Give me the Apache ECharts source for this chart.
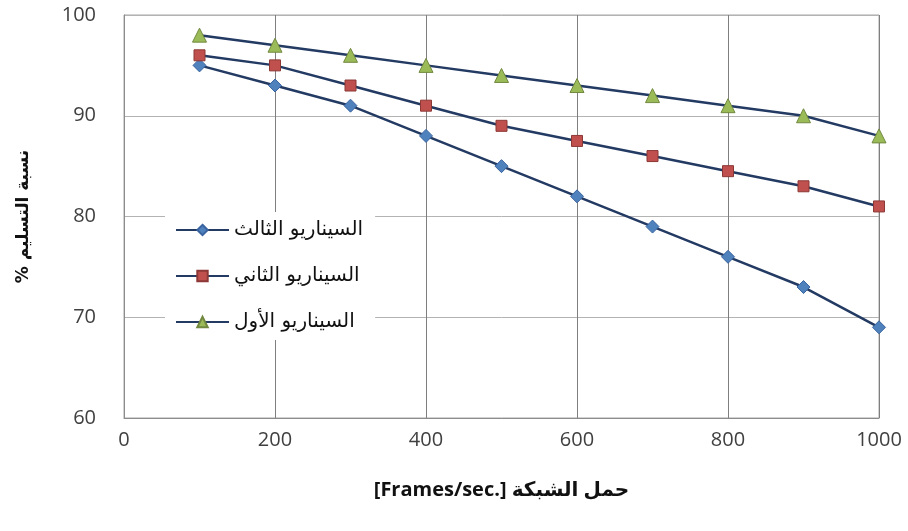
<!DOCTYPE html>
<html>
<head>
<meta charset="utf-8">
<script src="https://cdn.jsdelivr.net/npm/echarts@6/dist/echarts.min.js"></script>
<style>
  html, body { margin: 0; padding: 0; background: #fff; }
  #chart { width: 908px; height: 531px; }
</style>
</head>
<body>
<div id="chart"></div>
<script>
// Network load (frames/sec) on the x axis
const loads = [100, 200, 300, 400, 500, 600, 700, 800, 900, 1000];

// Delivery ratio (%) per scenario
const scenario1 = [98, 97, 96, 95, 94, 93, 92, 91, 90, 88];
const scenario2 = [96, 95, 93, 91, 89, 87.5, 86, 84.5, 83, 81];
const scenario3 = [95, 93, 91, 88, 85, 82, 79, 76, 73, 69];

const seriesNames = ['السيناريو الأول', 'السيناريو الثاني', 'السيناريو الثالث'];
const xTitle = '[Frames/sec.] حمل الشبكة';
const yTitle = '% نسبة التسليم';

const pairs = vals => loads.map((x, i) => [x, vals[i]]);

const lineColor = '#233a63';
const tickFont = { fontFamily: 'Open Sans, Liberation Sans, sans-serif', fontSize: 20, color: '#404040' };

function makeSeries(name, vals, symbol, size, fill, border) {
  return {
    name: name,
    type: 'line',
    data: pairs(vals),
    symbol: symbol,
    symbolSize: size,
    showAllSymbol: true,
    lineStyle: { color: lineColor, width: 2.5 },
    itemStyle: { color: fill, borderColor: border, borderWidth: 1 },
    emphasis: { disabled: true },
    z: 3
  };
}

const chart = echarts.init(document.getElementById('chart'), null, { renderer: 'canvas' });
chart.setOption({
  animation: false,
  backgroundColor: '#ffffff',
  grid: {
    left: 124, right: 29, top: 15, bottom: 113,
    show: true, borderColor: '#a6a6a6', borderWidth: 1, backgroundColor: 'transparent'
  },
  xAxis: {
    type: 'value', min: 0, max: 1000, interval: 200,
    axisLine: { show: true, lineStyle: { color: '#8c8c8c', width: 1 } },
    axisTick: { show: false },
    axisLabel: Object.assign({ margin: 12, formatter: v => String(v) }, tickFont),
    splitLine: { show: true, lineStyle: { color: '#7f7f7f', width: 1 } },
    name: xTitle,
    nameLocation: 'middle',
    nameGap: 62,
    nameTextStyle: { fontFamily: 'Open Sans, DejaVu Sans, sans-serif', fontWeight: 'bold', fontSize: 20, color: '#111' }
  },
  yAxis: {
    type: 'value', min: 60, max: 100, interval: 10,
    axisLine: { show: true, lineStyle: { color: '#8c8c8c', width: 1 } },
    axisTick: { show: false },
    axisLabel: Object.assign({ margin: 28 }, tickFont),
    splitLine: { show: true, lineStyle: { color: '#b3b3b3', width: 1 } },
    name: yTitle,
    nameLocation: 'middle',
    nameRotate: 90,
    nameGap: 92,
    nameTextStyle: { fontFamily: 'DejaVu Sans, sans-serif', fontWeight: 'bold', fontSize: 17, color: '#111' }
  },
  legend: {
    orient: 'vertical',
    left: 165, top: 212,
    padding: [8, 12, 8, 10],
    backgroundColor: '#ffffff',
    itemWidth: 53, itemHeight: 13,
    itemGap: 26,
    data: [seriesNames[2], seriesNames[1], seriesNames[0]],
    textStyle: { fontFamily: 'DejaVu Sans, sans-serif', fontSize: 20, color: '#111' }
  },
  series: [
    makeSeries(seriesNames[2], scenario3, 'diamond', 13, '#4f81bd', '#3a64a0'),
    makeSeries(seriesNames[1], scenario2, 'rect', 11, '#c0504d', '#8c3836'),
    makeSeries(seriesNames[0], scenario1, 'triangle', 14, '#9bbb59', '#71893f')
  ]
});
</script>
</body>
</html>
